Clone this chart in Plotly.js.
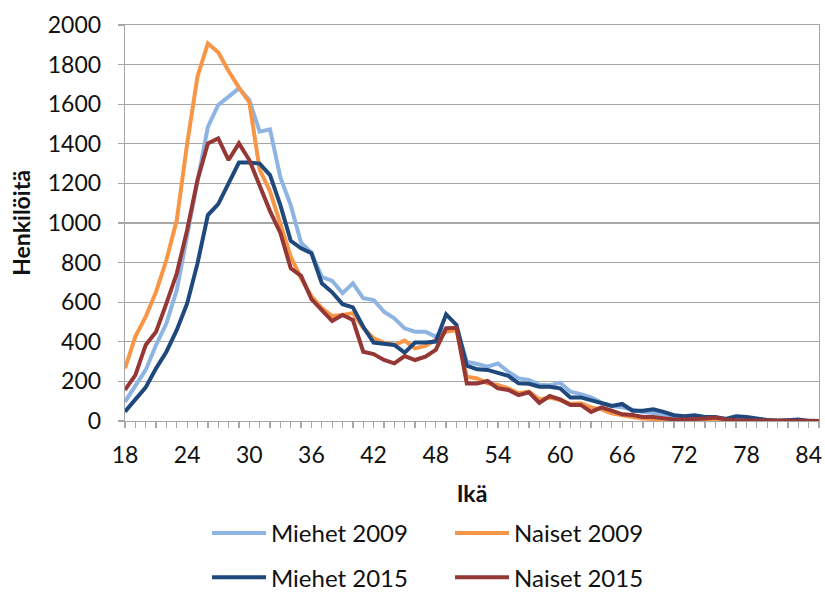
<!DOCTYPE html>
<html>
<head>
<meta charset="utf-8">
<script src="https://cdn.plot.ly/plotly-3.0.1.min.js"></script>
<style>html,body{margin:0;padding:0;background:#fff;}#chart{width:825px;height:592px;}</style>
</head>
<body>
<div id="chart"></div>
<script>
// Ages 18..85
var ages = [];
for (var a = 18; a <= 85; a++) ages.push(a);

var miehet2009 = [97,182,258,384,493,662,931,1220,1486,1596,1638,1680,1621,1461,1473,1230,1090,900,850,728,708,646,695,620,611,552,519,468,451,451,426,470,470,300,288,274,291,249,215,207,183,180,194,148,136,119,93,76,69,56,45,40,32,25,20,18,15,12,10,10,8,6,5,4,3,2,2,1];
var naiset2009 = [266,426,527,653,813,1015,1400,1740,1907,1862,1768,1684,1610,1270,1160,1000,830,720,630,570,530,535,545,470,418,396,384,406,367,379,409,451,460,224,215,190,182,165,140,148,109,119,106,86,89,69,59,39,27,20,13,8,6,5,4,3,3,2,2,1,1,1,1,0,0,0,0,0];
var miehet2015 = [47,106,170,266,350,460,594,796,1040,1095,1200,1305,1305,1300,1242,1090,910,872,847,695,650,590,574,476,396,389,384,345,396,396,401,539,485,279,261,258,244,228,190,188,173,173,165,119,119,106,89,76,86,52,52,59,46,29,24,29,20,20,10,24,20,10,5,0,5,7,0,0];
var naiset2015 = [157,232,384,451,594,746,965,1217,1402,1427,1318,1402,1318,1190,1060,950,771,733,615,560,505,535,510,350,338,308,291,328,308,325,359,468,471,190,190,202,165,157,131,145,91,126,109,81,81,46,69,52,34,30,20,20,13,8,8,8,13,18,8,4,3,2,2,1,1,1,0,0];

var names = ['Miehet 2009','Naiset 2009','Miehet 2015','Naiset 2015'];
var colors = ['#8DB4E2','#F79646','#1F497D','#953735'];
var series = [miehet2009, naiset2009, miehet2015, naiset2015];
var legends = ['legend','legend2','legend','legend2'];

var traces = series.map(function(s, i){
  return {
    x: ages, y: s, name: names[i], type: 'scatter', mode: 'lines',
    line: {color: colors[i], width: 4},
    legend: legends[i], legendgroup: 'g'+i, cliponaxis: false
  };
});

var fontFam = 'Lato, "Open Sans", sans-serif';
var gridCol = '#A6A6A6';

var layout = {
  width: 825, height: 592,
  margin: {l:125, r:6, t:25, b:171, autoexpand: false},
  paper_bgcolor: '#fff', plot_bgcolor: '#fff',
  font: {family: fontFam, color: '#111'},
  showlegend: true,
  xaxis: {
    range: [18, 85], tick0: 18, dtick: 6, tickmode: 'linear',
    ticks: 'outside', ticklen: 6, tickcolor: gridCol, tickwidth: 1.3,
    minor: {dtick: 1, tick0: 18, ticks: 'outside', ticklen: 6, tickcolor: gridCol, tickwidth: 1.3, showgrid: false},
    showgrid: false, zeroline: false,
    showline: true, linecolor: gridCol, linewidth: 1.3, mirror: true,
    tickfont: {size: 23, family: fontFam, color: '#111'},
    ticklabelstandoff: 7,
    title: {text: '<b>Ikä</b>', font: {size: 23, family: fontFam, color: '#111'}, standoff: 19}
  },
  yaxis: {
    range: [0, 2000], dtick: 200, tick0: 0, tickmode: 'linear',
    ticks: 'outside', ticklen: 6, tickcolor: gridCol, tickwidth: 1.3,
    showgrid: true, gridcolor: gridCol, gridwidth: 1.3, zeroline: false,
    showline: true, linecolor: gridCol, linewidth: 1.3, mirror: true,
    tickfont: {size: 23, family: fontFam, color: '#111'},
    ticklabelstandoff: 12,
    title: {text: '<b>Henkilöitä</b>', font: {size: 23, family: fontFam, color: '#111'}, standoff: 10}
  },
  legend: {
    orientation: 'v', x: (207-125)/694, xanchor: 'left', y: (421-511)/396, yanchor: 'top',
    font: {size: 24, family: fontFam, color: '#111'}, itemwidth: 54, tracegroupgap: 10,
    bgcolor: 'rgba(0,0,0,0)'
  },
  legend2: {
    orientation: 'v', x: (450-125)/694, xanchor: 'left', y: (421-511)/396, yanchor: 'top',
    font: {size: 24, family: fontFam, color: '#111'}, itemwidth: 54, tracegroupgap: 10,
    bgcolor: 'rgba(0,0,0,0)'
  }
};

Plotly.newPlot('chart', traces, layout, {displayModeBar: false, staticPlot: true});
</script>
</body>
</html>
